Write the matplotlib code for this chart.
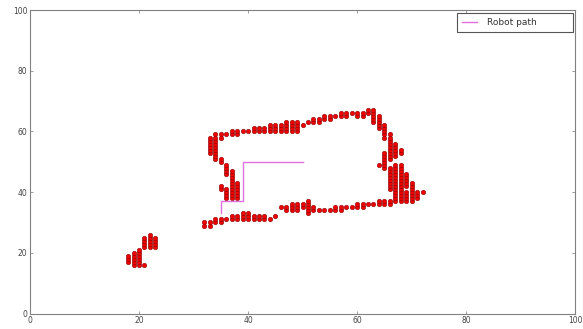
import matplotlib
matplotlib.use('Agg')
import matplotlib.pyplot as plt
import numpy as np

# obstacle points seen by the robot, one column per x value
cluster_cols = [
    (18, [17, 18, 19]),
    (19, [16, 17, 18, 19, 20]),
    (20, [16, 17, 18, 19, 20, 21]),
    (21, [16, 22, 23, 24, 25]),
    (22, [22, 23, 24, 25, 26]),
    (23, [22, 23, 24, 25]),
]

left_wall_cols = [
    (33, [53, 54, 55, 56, 57, 58]),
    (34, [51, 52, 53, 54, 55, 56, 57, 58, 59]),
    (35, [41, 42, 50, 51, 58, 59]),
    (36, [38, 39, 40, 41, 46, 47, 48, 49, 59]),
    (37, [38, 39, 40, 41, 42, 43, 44, 45, 46, 47, 59, 60]),
    (38, [38, 39, 40, 41, 42, 43, 59, 60]),
]

top_wall_cols = [
    (39, [60]), (40, [60]), (41, [60, 61]), (42, [60, 61]), (43, [60, 61]),
    (44, [60, 61, 62]), (45, [60, 61, 62]), (46, [60, 61, 62]),
    (47, [60, 61, 62, 63]), (48, [60, 61, 62, 63]), (49, [60, 61, 62, 63]),
    (50, [62]), (51, [63]), (52, [63, 64]), (53, [63, 64]),
    (54, [64, 65]), (55, [64, 65]), (56, [65]), (57, [65, 66]), (58, [65, 66]),
    (59, [66]), (60, [65, 66]), (61, [65, 66]), (62, [66, 67]),
    (63, [63, 64, 65, 66, 67]),
    (64, [61, 62, 63, 64, 65]),
    (65, [58, 59, 60, 61, 62]),
]

right_wall_cols = [
    (64, [49]),
    (65, [48, 49, 50, 51, 52, 53]),
    (66, [41, 42, 43, 44, 45, 46, 47, 48, 51, 52, 53, 54, 55, 56, 57, 58, 59]),
    (67, [37, 38, 39, 40, 41, 42, 43, 44, 45, 46, 47, 48, 49, 52, 53, 54, 55, 56]),
    (68, [37, 38, 39, 40, 41, 42, 43, 44, 45, 46, 47, 48, 49, 53, 54]),
    (69, [37, 38, 39, 40, 42, 43, 44, 45, 46]),
    (70, [37, 38, 39, 40, 41, 42, 43]),
    (71, [38, 39, 40]),
    (72, [40]),
]

bottom_wall_cols = [
    (32, [29, 30]), (33, [29, 30]), (34, [30, 31]), (35, [30, 31]), (36, [31]),
    (37, [31, 32]), (38, [31, 32]), (39, [31, 32, 33]), (40, [31, 32, 33]),
    (41, [31, 32]), (42, [31, 32]), (43, [31, 32]), (44, [31]), (45, [32]),
    (46, [35]), (47, [34, 35]), (48, [34, 35, 36]), (49, [34, 35, 36]),
    (50, [35, 36]), (51, [33, 34, 35, 36, 37]), (52, [34, 35]), (53, [34]),
    (54, [34]), (55, [34]), (56, [34, 35]), (57, [34, 35]), (58, [35]),
    (59, [35]), (60, [35, 36]), (61, [35, 36]), (62, [36]), (63, [36]),
    (64, [36, 37]), (65, [36, 37]), (66, [36, 37]),
]

# robot path
path_x = [35, 35, 39, 39, 50]
path_y = [33, 37, 37, 50, 50]

obs_x = []
obs_y = []
for cols in [cluster_cols, left_wall_cols, top_wall_cols, right_wall_cols, bottom_wall_cols]:
    for x, ys in cols:
        for y in ys:
            obs_x.append(x)
            obs_y.append(y)

fig = plt.figure(figsize=(5.83, 3.29), dpi=100)
ax = fig.add_axes([0.0515, 0.047, 0.935, 0.9225])

ax.plot(obs_x, obs_y, 'o', color='#ee0000', markersize=3.3,
        markeredgecolor='#700000', markeredgewidth=0.3, linestyle='none')
ax.plot(path_x, path_y, color='#e070e0', linewidth=1, label='Robot path')

ax.set_xlim(0, 100)
ax.set_ylim(0, 100)
ax.set_xticks([0, 20, 40, 60, 80, 100])
ax.set_yticks([0, 20, 40, 60, 80, 100])
ax.tick_params(direction='in', length=2, width=0.5, labelsize=5.5,
               colors='#777777', labelcolor='#444444', top=True, right=True, pad=2)
for s in ax.spines.values():
    s.set_color('#808080')
    s.set_linewidth(0.8)

# fixed-width legend box in the top right corner
leg = ax.legend(loc='upper left', bbox_to_anchor=(0.7835, 0.90, 0.2125, 0.09),
                mode='expand', borderaxespad=0, fontsize=6.5,
                fancybox=False, framealpha=1, borderpad=0.55, handlelength=1.6,
                handletextpad=1.2)
leg.get_frame().set_edgecolor('#555555')
leg.get_frame().set_linewidth(0.8)
for t in leg.get_texts():
    t.set_color('#333333')

fig.savefig('out.png', dpi=100)
